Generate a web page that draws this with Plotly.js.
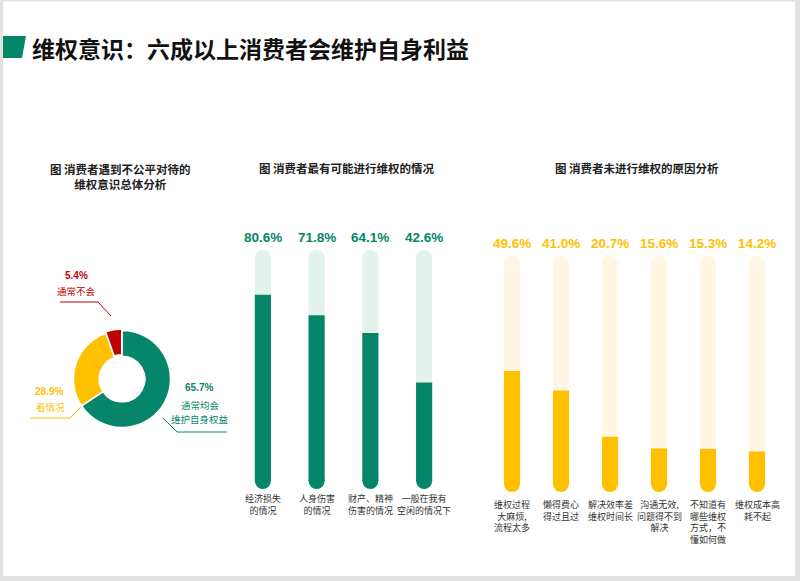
<!DOCTYPE html>
<html>
<head>
<meta charset="utf-8">
<script src="https://cdn.plot.ly/plotly-3.0.1.min.js"></script>
<style>
  html, body { margin: 0; padding: 0; background: #fff; }
  #chart { width: 800px; height: 581px; }
</style>
</head>
<body>
<div id="chart"></div>
<script>
// data
var pieLabels = ['通常均会维护自身权益', '看情况', '通常不会'];
var pieValues = [65.7, 28.9, 5.4];

var sitCats = ['经济损失<br>的情况', '人身伤害<br>的情况', '财产、精神<br>伤害的情况', '一般在我有<br>空闲的情况下'];
var sitValues = [80.6, 71.8, 64.1, 42.6];

var reasonCats = ['维权过程<br>大麻烦,<br>流程太多', '懒得费心<br>得过且过', '解决效率差<br>维权时间长',
                  '沟通无效,<br>问题得不到<br>解决', '不知道有<br>哪些维权<br>方式，不<br>懂如何做', '维权成本高<br>耗不起'];
var reasonValues = [49.6, 41.0, 20.7, 15.6, 15.3, 14.2];

var fullScale = 100;

var GREEN = '#05866a', GREEN_LT = '#e3f2ed';
var YELLOW = '#ffc000', YELLOW_LT = '#fff7e4';
var RED = '#c00000';
var FONT = 'Liberation Sans, Noto Sans CJK SC, sans-serif';
var CJK = 'Noto Sans CJK SC, sans-serif';

var W = 800, H = 581;
function px(x) { return x / W; }
function py(y) { return 1 - y / H; }

function idx(arr) { return arr.map(function (_, i) { return i; }); }
function fill(arr, v) { return arr.map(function () { return v; }); }

var traces = [];

traces.push({
  type: 'pie',
  labels: pieLabels,
  values: pieValues,
  sort: false,
  direction: 'clockwise',
  rotation: 0,
  hole: 0.47,
  pull: [0, 0, 0.03],
  textinfo: 'none',
  marker: { colors: [GREEN, YELLOW, RED], line: { color: '#fff', width: 1.5 } },
  domain: { x: [px(72), px(172)], y: [py(430), py(328)] },
  showlegend: false,
  hoverinfo: 'skip'
});

function barGroup(cats, vals, xa, ya, dark, light, w, cap) {
  var xs = idx(cats);
  traces.push({ type: 'bar', x: xs, y: fill(cats, fullScale), width: w, xaxis: xa, yaxis: ya,
    marker: { color: light, cornerradius: '50%' }, hoverinfo: 'skip', showlegend: false });
  traces.push({ type: 'bar', x: xs, y: vals, width: w, xaxis: xa, yaxis: ya,
    marker: { color: dark, cornerradius: '50%' }, hoverinfo: 'skip', showlegend: false });
  traces.push({ type: 'scatter', mode: 'markers', x: xs, y: fill(cats, 0), xaxis: xa, yaxis: ya,
    marker: { color: dark, size: cap, line: { width: 0 } }, cliponaxis: false, hoverinfo: 'skip', showlegend: false });
}
barGroup(sitCats, sitValues, 'x', 'y', GREEN, GREEN_LT, 0.3, 16);
barGroup(reasonCats, reasonValues, 'x2', 'y2', YELLOW, YELLOW_LT, 0.33, 16);

var annotations = [];

function txt(x, y, text, size, color, xanchor, extra) {
  var a = { xref: 'paper', yref: 'paper', x: px(x), y: py(y), text: text, showarrow: false,
    xanchor: xanchor || 'center', yanchor: 'middle', font: { family: CJK, size: size, color: color } };
  for (var k in extra) a[k] = extra[k];
  annotations.push(a);
}

// main title
txt(30, 48, '<b>维权意识：六成以上消费者会维护自身利益</b>', 23, '#111', 'left');

// subtitles
txt(120, 177, '<b>图 消费者遇到不公平对待的<br>维权意识总体分析</b>', 11.5, '#222', 'center', { align: 'center' });
txt(347, 168, '<b>图 消费者最有可能进行维权的情况</b>', 11.5, '#222');
txt(637, 168, '<b>图 消费者未进行维权的原因分析</b>', 11.5, '#222');

// donut labels
function pct(v) { return '<b>' + v.toFixed(1) + '%</b>'; }
txt(76, 275, pct(pieValues[2]), 10, RED, 'center', { font: { family: FONT, size: 10, color: RED } });
txt(76, 291, '通常不会', 9.5, RED);
txt(33, 391, pct(pieValues[1]), 10, YELLOW, 'left', { font: { family: FONT, size: 10, color: YELLOW } });
txt(34, 407, '看情况', 9.5, YELLOW, 'left');
txt(199, 388, pct(pieValues[0]), 10, GREEN, 'center', { font: { family: FONT, size: 10, color: GREEN } });
txt(200, 405, '通常均会', 9.5, GREEN);
txt(200, 419, '维护自身权益', 9.5, GREEN);

// bar value and category labels
function barLabels(cats, vals, xa, ya, color, shiftTop, shiftBot) {
  cats.forEach(function (c, i) {
    annotations.push({ xref: xa, yref: ya, x: i, y: fullScale, yanchor: 'bottom', yshift: shiftTop,
      text: pct(vals[i]), showarrow: false,
      font: { family: FONT, size: 13.5, color: color } });
    annotations.push({ xref: xa, yref: ya, x: i, y: 0, yanchor: 'top', yshift: shiftBot,
      text: c, showarrow: false, align: 'center',
      font: { family: CJK, size: 9, color: '#333' } });
  });
}
barLabels(sitCats, sitValues, 'x', 'y', GREEN, 3, -9);
barLabels(reasonCats, reasonValues, 'x2', 'y2', YELLOW, 3, -12);

// leader lines and decoration
function poly(pts, color) {
  var d = pts.map(function (p, i) { return (i ? 'L ' : 'M ') + px(p[0]) + ',' + py(p[1]); }).join(' ');
  return { type: 'path', xref: 'paper', yref: 'paper', path: d, line: { color: color, width: 1 } };
}
var shapes = [
  poly([[60, 302], [98, 302], [111, 316]], RED),
  poly([[30, 418], [70, 418], [81, 407]], YELLOW),
  poly([[163, 418], [177, 432], [227, 432]], GREEN),
  { type: 'path', xref: 'paper', yref: 'paper', line: { width: 0 }, fillcolor: GREEN,
    path: 'M ' + px(0) + ',' + py(36) + ' L ' + px(26) + ',' + py(36) + ' L ' + px(22) + ',' + py(58) + ' L ' + px(0) + ',' + py(58) + ' Z' },
  // grey frame
  { type: 'rect', xref: 'paper', yref: 'paper', x0: 0, x1: px(3), y0: 0, y1: 1, fillcolor: '#e2e2e2', line: { width: 0 } },
  { type: 'rect', xref: 'paper', yref: 'paper', x0: 0, x1: 1, y0: py(1.5), y1: 1, fillcolor: '#e2e2e2', line: { width: 0 } },
  { type: 'rect', xref: 'paper', yref: 'paper', x0: px(795), x1: 1, y0: 0, y1: 1, fillcolor: '#e2e2e2', line: { width: 0 } },
  { type: 'rect', xref: 'paper', yref: 'paper', x0: 0, x1: 1, y0: 0, y1: py(576), fillcolor: '#e2e2e2', line: { width: 0 } }
];

var hidden = { showgrid: false, zeroline: false, showticklabels: false, ticks: '', showline: false, fixedrange: true };

var layout = {
  width: W, height: H,
  margin: { l: 0, r: 0, t: 0, b: 0 },
  paper_bgcolor: '#fff', plot_bgcolor: 'rgba(0,0,0,0)',
  barmode: 'overlay',
  showlegend: false,
  xaxis: Object.assign({}, hidden, { domain: [px(236), px(451)], range: [-0.5, sitCats.length - 0.5] }),
  yaxis: Object.assign({}, hidden, { domain: [py(481), py(250)], range: [0, fullScale] }),
  xaxis2: Object.assign({}, hidden, { domain: [px(487.5), px(781.5)], range: [-0.5, reasonCats.length - 0.5], anchor: 'y2' }),
  yaxis2: Object.assign({}, hidden, { domain: [py(484), py(256)], range: [0, fullScale], anchor: 'x2' }),
  annotations: annotations,
  shapes: shapes
};

Plotly.newPlot('chart', traces, layout, { staticPlot: true, displayModeBar: false });
</script>
</body>
</html>
